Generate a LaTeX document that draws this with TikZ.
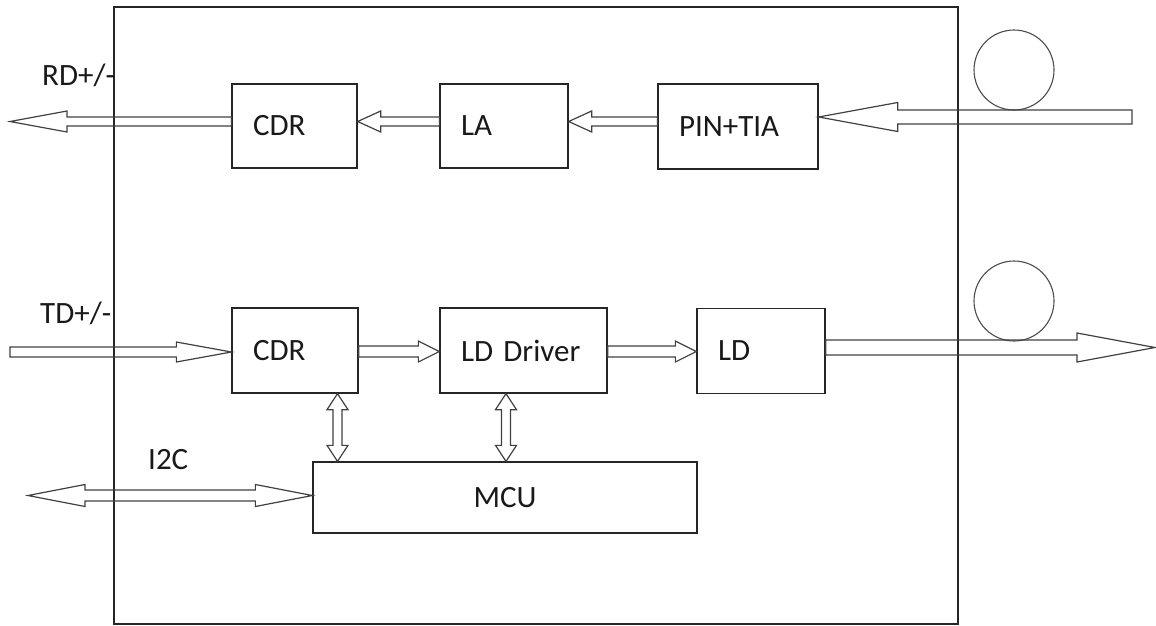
\documentclass[tikz,border=0pt]{standalone}
\usepackage{fontspec}
\setmainfont{Carlito}
\usetikzlibrary{calc}
\tikzset{
  box/.style={draw=black!85, line width=1.3pt, inner xsep=21pt, inner ysep=0pt,
    align=left, font=\fontsize{31}{36}\selectfont, text=black!90},
  blk/.style={draw=black!75, line width=1.2pt, line join=miter},
  lbl/.style={font=\fontsize{31}{36}\selectfont, inner sep=0pt, text=black!90},
  frame/.style={draw=black!85, line width=1.4pt},
  fiber/.style={draw=black!70, line width=1.1pt}
}
% single block arrow: from, to, shaft half-width, head half-width, head length
\newcommand\sarrow[5]{%
  \coordinate (ba-c) at ($(#2)!#5!(#1)$);
  \draw[blk] ($(#1)!#3!90:(#2)$) -- ($(ba-c)!#3!90:(#2)$) -- ($(ba-c)!#4!90:(#2)$) -- (#2)
    -- ($(ba-c)!#4!-90:(#2)$) -- ($(ba-c)!#3!-90:(#2)$) -- ($(#1)!#3!-90:(#2)$) -- cycle;}
% double block arrow
\newcommand\darrow[5]{%
  \coordinate (bd-c) at ($(#2)!#5!(#1)$);
  \coordinate (bd-d) at ($(#1)!#5!(#2)$);
  \draw[blk] (#1) -- ($(bd-d)!#4!90:(#2)$) -- ($(bd-d)!#3!90:(#2)$) -- ($(bd-c)!#3!90:(#2)$)
    -- ($(bd-c)!#4!90:(#2)$) -- (#2) -- ($(bd-c)!#4!-90:(#2)$) -- ($(bd-c)!#3!-90:(#2)$)
    -- ($(bd-d)!#3!-90:(#2)$) -- ($(bd-d)!#4!-90:(#2)$) -- cycle;}
\begin{document}
\begin{tikzpicture}[x=1pt, y=-1pt]
\useasboundingbox (0,0) rectangle (1156,625);
\draw[frame] (114,7) rectangle (958,624);

% boxes
\node[box, minimum width=125pt, minimum height=84pt, text width=83pt] (cdr1) at (294.5,126) {CDR};
\node[box, minimum width=128pt, minimum height=84pt, text width=86pt] (la) at (504,126) {LA};
\node[box, minimum width=160pt, minimum height=85pt, text width=118pt] (pin) at (738,126.5) {PIN+TIA};
\node[box, minimum width=126pt, minimum height=85pt, text width=84pt] (cdr2) at (295,350.5) {CDR};
\node[box, minimum width=167pt, minimum height=85pt, text width=125pt] (ldd) at (523.5,350.5) {LD Driver};
\node[box, minimum width=128pt, minimum height=85pt, text width=86pt] (ld) at (761,351) {LD};
\node[box, minimum width=384pt, minimum height=71pt, text width=342pt, align=center] (mcu) at (505,497.5) {MCU};

% fibres
\draw[fiber] (1014,70) circle[radius=40pt];
\draw[fiber] (1014,301) circle[radius=40pt];

% labels
\node[lbl, anchor=base west] (rdl) at (42,85) {RD+/-};
\node[lbl, anchor=base west] (tdl) at (40,323) {TD+/-};
\node[lbl, anchor=base west] (i2cl) at (148,469) {I2C};

% free ends
\coordinate (rd) at (10,121.5);
\coordinate (fin) at (1132,117);
\coordinate (td) at (10,352);
\coordinate (tx) at (10,351.5);
\coordinate (fout) at (1155,347.5);
\coordinate (v1) at (337.5,430);
\coordinate (v2) at (506,430);
\coordinate (i2c) at (28,495.5);

\coordinate (a1s) at (cdr1.west |- rd);
\coordinate (a2s) at (la.west |- rd);
\coordinate (a2e) at (cdr1.east |- rd);
\coordinate (a3s) at (pin.west |- rd);
\coordinate (a3e) at (la.east |- rd);
\coordinate (a4e) at (pin.east |- fin);
\coordinate (a5e) at (cdr2.west |- td);
\coordinate (a6s) at (cdr2.east |- tx);
\coordinate (a6e) at (ldd.west |- tx);
\coordinate (a7s) at (ldd.east |- tx);
\coordinate (a7e) at (ld.west |- tx);
\coordinate (a8s) at (ld.east |- fout);
\coordinate (v1s) at (cdr2.south -| v1);
\coordinate (v1e) at (mcu.north -| v1);
\coordinate (v2s) at (ldd.south -| v2);
\coordinate (v2e) at (mcu.north -| v2);
\coordinate (i2ce) at (mcu.west |- i2c);

% arrows
\sarrow{a1s}{rd}{4.5pt}{10.5pt}{57pt}
\sarrow{a2s}{a2e}{4.5pt}{10.5pt}{23pt}
\sarrow{a3s}{a3e}{4.5pt}{10.5pt}{23pt}
\sarrow{fin}{a4e}{7pt}{14.5pt}{79pt}
\sarrow{td}{a5e}{5pt}{10pt}{55pt}
\sarrow{a6s}{a6e}{5.5pt}{10.5pt}{21pt}
\sarrow{a7s}{a7e}{5.5pt}{10.5pt}{21pt}
\sarrow{a8s}{fout}{7.5pt}{14.5pt}{78pt}
\darrow{v1s}{v1e}{4.5pt}{10.5pt}{16pt}
\darrow{v2s}{v2e}{4.5pt}{10.5pt}{16pt}
\darrow{i2c}{i2ce}{5.5pt}{11pt}{57pt}
\end{tikzpicture}
\end{document}
